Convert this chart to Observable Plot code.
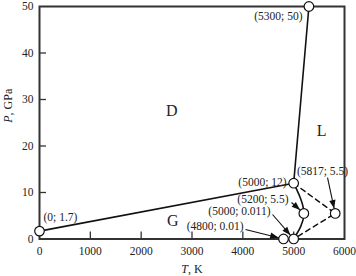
<!DOCTYPE html>
<html>
<head>
<meta charset="utf-8">
<script src="https://cdn.jsdelivr.net/npm/d3@7"></script>
<script src="https://cdn.jsdelivr.net/npm/@observablehq/plot@0.6"></script>
<style>
  html, body { margin: 0; padding: 0; background: #fff; }
</style>
</head>
<body>
<div id="chart"></div>
<script>
// Phase points (T in K, P in GPa)
const pointT = [0, 5000, 5300, 5817, 5200, 5000, 4800];
const pointP = [1.7, 12, 50, 5.5, 5.5, 0.011, 0.01];

// Solid boundary D/G and D/L
const solidT = [0, 5000, 5300];
const solidP = [1.7, 12, 50];
// Curved G/L boundary
const curveT = [5000, 5200, 5000];
const curveP = [12, 5.5, 0.011];
// Dashed boundary
const dashT = [5000, 5817, 5000];
const dashP = [12, 5.5, 0.011];

// Region names
const regionNames = ["D", "L", "G"];
const regionT = [2600, 5550, 2620];
const regionP = [27.6, 23.3, 4.0];

// Annotation label anchors (data units) and arrow tails, same order as the points
const labelT = [79, 4860, 5174, 5567, 4898, 4545, 4013];
const labelP = [4.6, 12.15, 47.85, 14.5, 8.5, 5.9, 2.7];
const labelAnchor = ["start", "end", "end", "middle", "end", "end", "end"];
const arrowTailT = [null, null, null, 5666, 4958, 4584, 4052];
const arrowTailP = [null, null, null, 13.2, 7.85, 5.27, 2.04];

const xTickLabels = [0, 1000, 2000, 3000, 4000, 5000, 6000];
const xTickMarks = [1000, 2000, 3000, 4000, 5000];
const yTickLabels = [0, 10, 20, 30, 40, 50];
const yTickMarks = [10, 20, 30, 40];

const points = pointT.map((T, i) => ({T, P: pointP[i]}));
const solid = solidT.map((T, i) => ({T, P: solidP[i]}));
const curve = curveT.map((T, i) => ({T, P: curveP[i]}));
const dashed = dashT.map((T, i) => ({T, P: dashP[i]}));
const regions = regionNames.map((name, i) => ({name, T: regionT[i], P: regionP[i]}));
const notes = points.map((d, i) => ({
  text: `(${d.T}; ${d.P})`,
  T: d.T, P: d.P,
  lx: labelT[i], ly: labelP[i], anchor: labelAnchor[i],
  ax: arrowTailT[i], ay: arrowTailP[i]
}));
const arrows = notes.filter(d => d.ax != null);

const ink = "#111";
const frameInk = "#333";
const serif = "'Liberation Serif', 'DejaVu Serif', serif";

function arrowHead(color) {
  return d3.create("svg:marker")
    .attr("viewBox", "-20 -10 20 20")
    .attr("markerWidth", 20)
    .attr("markerHeight", 20)
    .attr("markerUnits", "userSpaceOnUse")
    .attr("refX", 0)
    .attr("refY", 0)
    .attr("orient", "auto")
    .call(m => m.append("path").attr("d", "M-5,0L-13.5,-3.2L-13.5,3.2Z").attr("fill", color).attr("stroke", "none"))
    .node();
}

const textMarks = ["start", "end", "middle"].map(a =>
  Plot.text(notes.filter(d => d.anchor === a), {
    x: "lx", y: "ly", text: "text", textAnchor: a, lineAnchor: "middle",
    fontSize: 11.5, fill: "#222", fontFamily: serif
  })
);

const chart = Plot.plot({
  width: 356,
  height: 276,
  marginLeft: 39,
  marginRight: 12,
  marginTop: 6,
  marginBottom: 37.5,
  style: {fontFamily: serif, fontSize: "11px", color: "#222", background: "#fff"},
  x: {domain: [0, 6000]},
  y: {domain: [0, 50]},
  marks: [
    Plot.axisX({ticks: xTickLabels, tickSize: 0, tickPadding: 8, tickFormat: d => String(d), label: null, fontSize: 11.5, fontFamily: serif}),
    Plot.axisY({ticks: yTickLabels, tickSize: 0, tickPadding: 6, tickFormat: d => String(d), label: null, fontSize: 11.5, fontFamily: serif}),
    Plot.ruleX(xTickMarks, {x: d => d, y1: () => 0, y2: () => 0, insetTop: -7, stroke: frameInk, strokeWidth: 1.3}),
    Plot.ruleY(yTickMarks, {y: d => d, x1: () => 0, x2: () => 0, insetRight: -7, stroke: frameInk, strokeWidth: 1.3}),
    Plot.frame({stroke: frameInk, strokeWidth: 2}),
    Plot.line(solid, {x: "T", y: "P", stroke: ink, strokeWidth: 1.6}),
    Plot.line(curve, {x: "T", y: "P", stroke: ink, strokeWidth: 1.6, curve: "natural"}),
    Plot.line(dashed, {x: "T", y: "P", stroke: ink, strokeWidth: 1.5, strokeDasharray: "5,4"}),
    Plot.link(arrows, {x1: "ax", y1: "ay", x2: "T", y2: "P", stroke: ink, strokeWidth: 1.1, markerEnd: arrowHead}),
    Plot.dot(points, {x: "T", y: "P", r: 4.8, fill: "white", stroke: ink, strokeWidth: 1.2}),
    ...textMarks,
    Plot.text(regions, {x: "T", y: "P", text: "name", fontSize: 16, fill: "#222", lineAnchor: "middle", fontFamily: serif}),
    Plot.text(["T, K"], {frameAnchor: "bottom", dy: 30, fontSize: 12, fill: "#222", lineAnchor: "middle", fontFamily: serif}),
    Plot.text(["P, GPa"], {frameAnchor: "left", dx: -31, rotate: -90, fontSize: 12, fill: "#222", lineAnchor: "middle", fontFamily: serif})
  ]
});

// italicize the variable letters in axis labels
d3.select(chart).selectAll("text").each(function () {
  const t = this.textContent;
  if (t === "T, K" || t === "P, GPa") {
    const letter = t[0], rest = t.slice(1);
    const sel = d3.select(this);
    sel.text(null);
    sel.append("tspan").attr("font-style", "italic").text(letter);
    sel.append("tspan").text(rest);
  }
});

document.getElementById("chart").appendChild(chart);
</script>
</body>
</html>
